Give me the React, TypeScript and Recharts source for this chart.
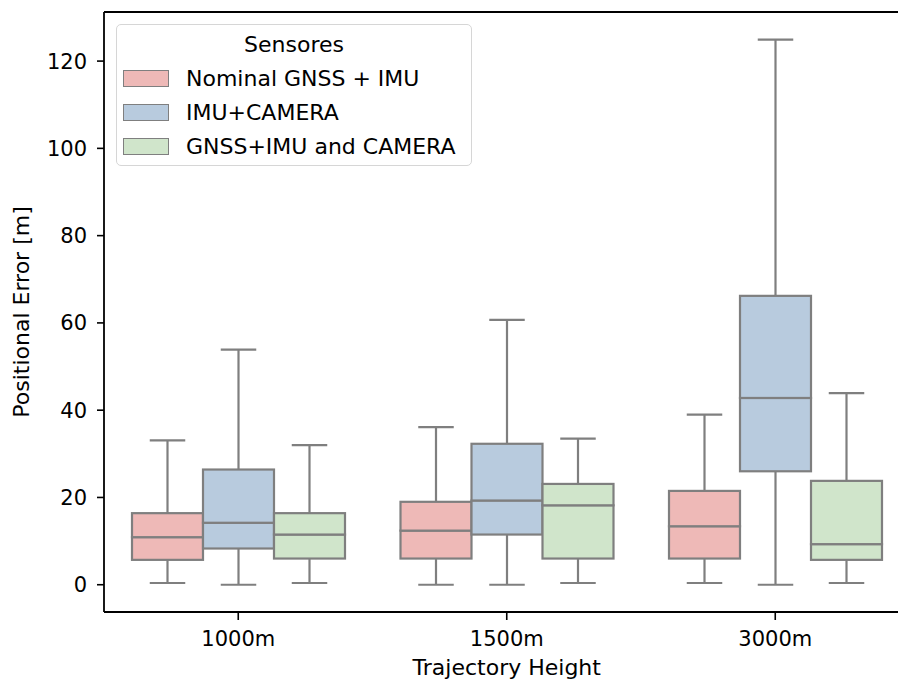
// Box plot: positional error per trajectory height and sensor set
import { BarChart, Bar, XAxis, YAxis, ReferenceLine, Legend, Label } from "recharts";

const categories = ["1000m", "1500m", "3000m"];

// [min, q1, median, q3, max] per category
const nominalGnssImu = [
  [0.4, 5.7, 10.9, 16.4, 33.1],
  [0, 6.0, 12.4, 19.0, 36.1],
  [0.4, 6.0, 13.4, 21.5, 39.0],
];
const imuCamera = [
  [0, 8.3, 14.2, 26.4, 53.9],
  [0, 11.5, 19.3, 32.3, 60.7],
  [0, 26.0, 42.8, 66.2, 124.9],
];
const gnssImuCamera = [
  [0.4, 6.0, 11.5, 16.4, 32.0],
  [0.4, 6.0, 18.2, 23.1, 33.5],
  [0.4, 5.7, 9.3, 23.8, 43.9],
];

const seriesNames = ["Nominal GNSS + IMU", "IMU+CAMERA", "GNSS+IMU and CAMERA"];
const seriesColors = ["#eeb9b7", "#b8cbde", "#d0e5cb"];
const yTicks = [0, 20, 40, 60, 80, 100, 120];

const FONT = "'DejaVu Sans', sans-serif";
const EDGE = "#7f7f7f";
const LW = 2.2;

const series = [
  { key: "nom", values: nominalGnssImu },
  { key: "cam", values: imuCamera },
  { key: "fus", values: gnssImuCamera },
];

const rows = categories.map((c, i) => {
  const row: any = { category: c };
  series.forEach((s) => {
    const [mn, q1, md, q3, mx] = s.values[i];
    row[`${s.key}_base`] = mn;
    row[`${s.key}_lw`] = q1 - mn;
    row[`${s.key}_bl`] = md - q1;
    row[`${s.key}_bu`] = q3 - md;
    row[`${s.key}_uw`] = mx - q3;
  });
  return row;
});

function span(p: any) {
  const top = Math.min(p.y, p.y + p.height);
  const bottom = Math.max(p.y, p.y + p.height);
  return { top, bottom, cx: p.x + p.width / 2 };
}

const emptyShape = () => <g />;

const lowWhisker = (p: any) => {
  const { top, bottom, cx } = span(p);
  return (
    <g stroke={EDGE} strokeWidth={LW}>
      <line x1={cx} x2={cx} y1={top} y2={bottom} />
      <line x1={cx - p.width / 4} x2={cx + p.width / 4} y1={bottom} y2={bottom} />
    </g>
  );
};

const highWhisker = (p: any) => {
  const { top, bottom, cx } = span(p);
  return (
    <g stroke={EDGE} strokeWidth={LW}>
      <line x1={cx} x2={cx} y1={top} y2={bottom} />
      <line x1={cx - p.width / 4} x2={cx + p.width / 4} y1={top} y2={top} />
    </g>
  );
};

const boxShape = (color: string) => (p: any) => {
  const { top, bottom } = span(p);
  return (
    <rect x={p.x} y={top} width={p.width} height={bottom - top}
      fill={color} stroke={EDGE} strokeWidth={LW} />
  );
};

const SensorLegend = () => (
  <div
    style={{
      width: 354,
      height: 140,
      border: "1px solid #d6d6d6",
      borderRadius: 5,
      background: "rgba(255,255,255,0.8)",
      fontFamily: FONT,
      fontSize: 22,
      color: "#000",
    }}
  >
    <div style={{ textAlign: "center", lineHeight: "26px", paddingTop: 7, height: 29 }}>Sensores</div>
    {seriesNames.map((n, i) => (
      <div key={n} style={{ display: "flex", alignItems: "center", height: 34 }}>
        <div
          style={{
            marginLeft: 6,
            width: 44,
            height: 15,
            background: seriesColors[i],
            border: `1.5px solid ${EDGE}`,
          }}
        />
        <span style={{ marginLeft: 17, whiteSpace: "nowrap" }}>{n}</span>
      </div>
    ))}
  </div>
);

export default function App() {
  const tickStyle = { fontSize: 21, fill: "#000", fontFamily: FONT };
  return (
    <div
      style={{
        position: "fixed",
        left: 0,
        top: 0,
        width: 898,
        height: 681,
        overflow: "hidden",
        background: "#fff",
      }}
    >
      <BarChart
        width={930}
        height={681}
        data={rows}
        margin={{ top: 12, right: 20.5, bottom: 0, left: 0 }}
        barSize={71}
        barGap={0}
      >
        <XAxis
          dataKey="category"
          height={69}
          tick={tickStyle}
          tickSize={8}
          tickMargin={11}
          axisLine={{ stroke: "#000", strokeWidth: 1.8 }}
          tickLine={{ stroke: "#000", strokeWidth: 1.6 }}
        >
          <Label
            content={(props: any) => {
              const vb = props.viewBox;
              return (
                <text x={vb.x + vb.width / 2} y={vb.y + vb.height - 6} textAnchor="middle"
                  fontSize={22} fontFamily={FONT} fill="#000">
                  Trajectory Height
                </text>
              );
            }}
          />
        </XAxis>
        <YAxis
          width={104}
          domain={[-6.25, 131.25]}
          allowDataOverflow
          ticks={yTicks}
          tick={tickStyle}
          tickSize={7}
          tickMargin={10}
          axisLine={{ stroke: "#000", strokeWidth: 1.8 }}
          tickLine={{ stroke: "#000", strokeWidth: 1.6 }}
        >
          <Label
            content={(props: any) => {
              const vb = props.viewBox;
              const cy = vb.y + vb.height / 2;
              return (
                <text x={28.5} y={cy} textAnchor="middle" transform={`rotate(-90, 28.5, ${cy})`}
                  fontSize={22} fontFamily={FONT} fill="#000">
                  Positional Error [m]
                </text>
              );
            }}
          />
        </YAxis>
        <ReferenceLine y={131.25} stroke="#000" strokeWidth={1.8} />
        {series.flatMap((s, i) => [
          <Bar key={`${s.key}_base`} dataKey={`${s.key}_base`} stackId={s.key} shape={emptyShape} isAnimationActive={false} legendType="none" />,
          <Bar key={`${s.key}_lw`} dataKey={`${s.key}_lw`} stackId={s.key} shape={lowWhisker} isAnimationActive={false} legendType="none" />,
          <Bar key={`${s.key}_bl`} dataKey={`${s.key}_bl`} stackId={s.key} shape={boxShape(seriesColors[i])} isAnimationActive={false} legendType="none" />,
          <Bar key={`${s.key}_bu`} dataKey={`${s.key}_bu`} stackId={s.key} shape={boxShape(seriesColors[i])} isAnimationActive={false} legendType="none" />,
          <Bar key={`${s.key}_uw`} dataKey={`${s.key}_uw`} stackId={s.key} shape={highWhisker} isAnimationActive={false} legendType="none" />,
        ])}
        <Legend
          layout="vertical"
          align="center"
          verticalAlign="middle"
          content={() => <SensorLegend />}
          wrapperStyle={{ left: 116, top: 24, width: 356, height: 142 }}
        />
      </BarChart>
    </div>
  );
}
